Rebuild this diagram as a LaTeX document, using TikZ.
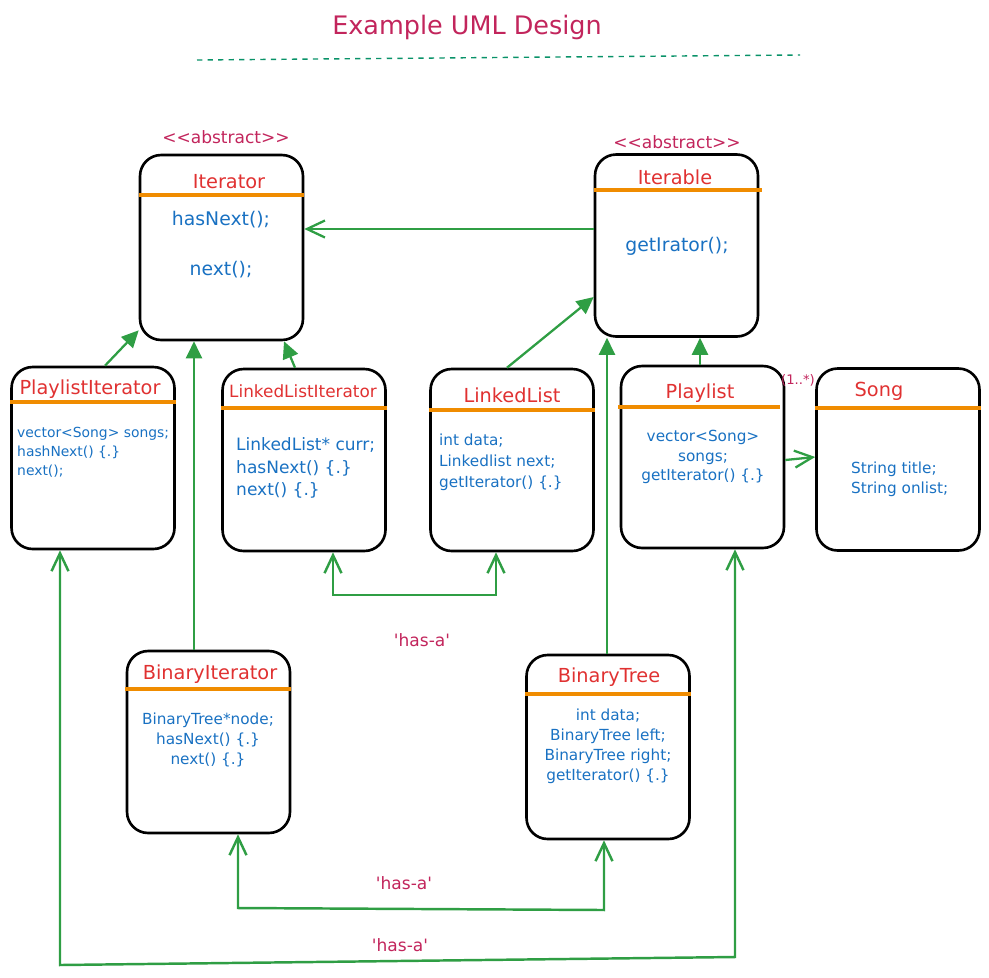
\documentclass[tikz,border=0pt]{standalone}
\usepackage{fontspec}
\setmainfont{DejaVu Sans}
\usetikzlibrary{arrows.meta, positioning}
\definecolor{umlred}{HTML}{E03131}
\definecolor{umlblue}{HTML}{1971C2}
\definecolor{umlorange}{HTML}{F08C00}
\definecolor{umlgreen}{HTML}{2F9E44}
\definecolor{umlpink}{HTML}{C2255C}
\definecolor{umlteal}{HTML}{099268}
\tikzstyle{classbox} = [rectangle, rounded corners=12pt, minimum width=3.26cm, minimum height=3.64cm, draw=black, line width=1.5pt]
\tikzstyle{classname} = [text=umlred, font=\fontsize{11}{13}\selectfont]
\tikzstyle{member} = [text=umlblue, font=\fontsize{8.3}{11.3}\selectfont, align=left]
\tikzstyle{divider} = [draw=umlorange, line width=1.8pt]
\tikzstyle{stereo} = [text=umlpink, font=\fontsize{9.7}{11}\selectfont]
\tikzstyle{relation} = [text=umlpink, font=\fontsize{9.7}{11}\selectfont]
\tikzstyle{arrow} = [draw=umlgreen, line width=1.3pt, -{Straight Barb[length=3.6mm,width=3.4mm]}]
\tikzstyle{inherit} = [draw=umlgreen, line width=1.3pt, -{Triangle[length=3.4mm,width=3.2mm]}]
\tikzstyle{hasa} = [draw=umlgreen, line width=1.4pt, {Straight Barb[length=3.6mm,width=3.4mm]}-{Straight Barb[length=3.6mm,width=3.4mm]}]

\begin{document}
\begin{tikzpicture}[x=0.02cm, y=-0.02cm]
    \useasboundingbox (0,0) rectangle (989,977);

    \node (title) [text=umlpink, font=\fontsize{14.5}{17}\selectfont] at (467,27) {Example UML Design};
    \draw [umlteal, dashed, line width=0.8pt] (197,60) -- (800,55);

    % abstract classes
    \node (iter) [classbox, minimum height=3.7cm] at (221.5,247.5) {};
    \node (iterabs) [stereo] at (226,137) {<{}<abstract>{}>};
    \node (itertitle) [classname] at (229,182) {Iterator};
    \draw [divider] (iter.west |- 0,195) -- (iter.east |- 0,195);
    \node (iterm1) [member, font=\fontsize{10.7}{13}\selectfont] at (221,220) {hasNext();};
    \node (iterm2) [member, font=\fontsize{10.7}{13}\selectfont] at (221,270) {next();};

    \node (iterable) [classbox] at (676.5,245.5) {};
    \node (iterableabs) [stereo] at (677,142) {<{}<abstract>{}>};
    \node (iterabletitle) [classname] at (675,177) {Iterable};
    \draw [divider] (iterable.west |- 0,190) -- (762,190);
    \node (iterablem) [member, font=\fontsize{10.7}{13}\selectfont] at (677,246) {getIrator();};

    % second row
    \node (pliter) [classbox] at (93,458) {};
    \node (plitertitle) [classname] at (90,389) {PlaylistIterator};
    \draw [divider] (pliter.west |- 0,402) -- (pliter.east |- 0,402);
    \node (piterm) [member, font=\fontsize{7.9}{10.8}\selectfont, anchor=west] at (11,452) {vector<Song> songs;\\hashNext() \{.\}\\next();};

    \node (lliter) [classbox] at (304,460) {};
    \node (llitertitle) [classname, font=\fontsize{9.6}{11}\selectfont] at (303,391) {LinkedListIterator};
    \draw [divider] (lliter.west |- 0,408) -- (lliter.east |- 0,408);
    \node (lliterm) [member, font=\fontsize{9.7}{13}\selectfont, anchor=west] at (230,468) {LinkedList* curr;\\hasNext() \{.\}\\next() \{.\}};

    \node (llist) [classbox] at (512,460) {};
    \node (llisttitle) [classname] at (512,395) {LinkedList};
    \draw [divider] (llist.west |- 0,410) -- (llist.east |- 0,410);
    \node (llistm) [member, font=\fontsize{8.7}{12}\selectfont, anchor=west] at (433,462) {int data;\\Linkedlist next;\\getIterator() \{.\}};

    \node (plist) [classbox] at (702.5,457) {};
    \node (plisttitle) [classname] at (700,393) {Playlist};
    \draw [divider] (618,407) -- (780,407);
    \node (plistm) [member, font=\fontsize{8.7}{11.3}\selectfont, align=center] at (703,457) {vector<Song>\\songs;\\getIterator() \{.\}};
    \node (mult) [relation, font=\fontsize{7.5}{9}\selectfont] at (798,380) {(1..*)};

    \node (song) [classbox] at (898,459.5) {};
    \node (songtitle) [classname] at (879,391) {Song};
    \draw [divider] (song.west |- 0,408) -- (song.east |- 0,408);
    \node (songm) [member, font=\fontsize{8.7}{11.3}\selectfont, anchor=west] at (845,479) {String title;\\String onlist;};

    % third row
    \node (biter) [classbox] at (208.5,742) {};
    \node (bitertitle) [classname] at (210,674) {BinaryIterator};
    \draw [divider] (125,689) -- (biter.east |- 0,689);
    \node (biterm) [member, font=\fontsize{8.7}{11.3}\selectfont, align=center] at (208,740) {BinaryTree*node;\\hasNext() \{.\}\\next() \{.\}};

    \node (btree) [classbox, minimum height=3.68cm] at (608,747) {};
    \node (btreetitle) [classname] at (609,677) {BinaryTree};
    \draw [divider] (btree.west |- 0,694) -- (btree.east |- 0,694);
    \node (btreem) [member, font=\fontsize{8.7}{11.3}\selectfont, align=center] at (608,746) {int data;\\BinaryTree left;\\BinaryTree right;\\getIterator() \{.\}};

    % has-a labels
    \node (hasa1) [relation] at (422,640) {\textquotesingle has-a\textquotesingle};
    \node (hasa2) [relation] at (404,883) {\textquotesingle has-a\textquotesingle};
    \node (hasa3) [relation] at (400,945) {\textquotesingle has-a\textquotesingle};

    \coordinate (h1a) at (333,595);
    \coordinate (h1b) at (496,595);
    \coordinate (h2a) at (238,908);
    \coordinate (h2b) at (604,910);
    \coordinate (h3a) at (60,965);
    \coordinate (h3b) at (735,957);

    \draw [arrow] (iterable.west |- 0,229) -- (iter.east |- 0,229);
    \draw [inherit] (pliter.north -| 105,0) -- (iter.-135);
    \draw [inherit] (biter.north -| 194,0) -- (iter.south -| 194,0);
    \draw [inherit] (lliter.north -| 295,0) -- (iter.south -| 284,0);
    \draw [inherit] (llist.north -| 507,0) -- (iterable.west |- 0,297);
    \draw [inherit] (btree.north -| 607,0) -- (iterable.south -| 607,0);
    \draw [inherit] (plist.north -| 700,0) -- (iterable.south -| 700,0);
    \draw [arrow] (plist.east |- 0,460) -- (song.west |- 0,457);

    \draw [hasa] (lliter.south -| h1a) -- (h1a) -- (h1b) -- (llist.south -| h1b);
    \draw [hasa] (biter.south -| h2a) -- (h2a) -- (h2b) -- (btree.south -| h2b);
    \draw [hasa] (pliter.south -| h3a) -- (h3a) -- (h3b) -- (plist.south -| h3b);

\end{tikzpicture}
\end{document}
